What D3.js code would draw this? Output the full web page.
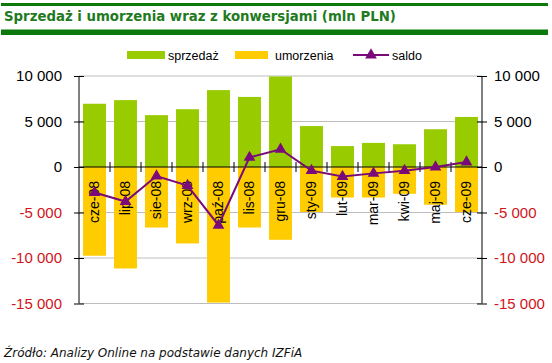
<!DOCTYPE html>
<html>
<head>
<meta charset="utf-8">
<script src="https://cdn.jsdelivr.net/npm/d3@7"></script>
<style>
  body { margin: 0; background: #fff; }
  svg { display: block; }
</style>
</head>
<body>
<script>
//chart data
var months = ["cze-08", "lip-08", "sie-08", "wrz-08", "paź-08", "lis-08", "gru-08",
              "sty-09", "lut-09", "mar-09", "kwi-09", "maj-09", "cze-09"];
var sprzedaz = [6950, 7350, 5700, 6350, 8450, 7700, 9950, 4500, 2300, 2650, 2500, 4150, 5500];
var umorzenia = [-9750, -11150, -6650, -8400, -14900, -6650, -8000, -4950, -3350, -3350, -2950, -4150, -4950];
var saldo = [-2800, -3800, -1000, -2050, -6400, 1050, 1950, -400, -1050, -700, -400, 0, 550];
var yTicks = [-15000, -10000, -5000, 0, 5000, 10000];
var seriesNames = ["sprzedaż", "umorzenia", "saldo"];

(function(){

var width = 552, height = 363;
var plotLeft = 79, plotRight = 482, plotTop = 76, plotBottom = 303.5;

var svg = d3.select("body").append("svg")
    .attr("width", width)
    .attr("height", height);

//title with green bars
svg.append("rect").attr("x", 1).attr("y", 3).attr("width", 547).attr("height", 3).attr("fill", "#0b7a0b");
svg.append("rect").attr("x", 1).attr("y", 29.5).attr("width", 547).attr("height", 5.5).attr("fill", "#0b7a0b");
svg.append("text")
    .attr("x", 4).attr("y", 21)
    .attr("font-family", "DejaVu Sans")
    .attr("font-weight", "bold")
    .attr("font-size", 13.3)
    .attr("fill", "#1f7a22")
    .text("Sprzedaż i umorzenia wraz z konwersjami (mln PLN)");

//scales
var x = d3.scaleBand()
    .domain(months)
    .range([plotLeft, plotRight])
    .paddingInner(0.26)
    .paddingOuter(0.13);

var y = d3.scaleLinear()
    .domain([-15000, 10000])
    .range([plotBottom, plotTop]);

var fmt = function(v){
    return d3.format(",")(v).replace(/,/g, " ").replace("−", "-");
};

//gridlines
svg.append("g").selectAll("line")
    .data(yTicks.filter(function(d){ return d != 0; }))
    .enter().append("line")
    .attr("x1", plotLeft).attr("x2", plotRight)
    .attr("y1", function(d){ return y(d); })
    .attr("y2", function(d){ return y(d); })
    .attr("stroke", "#bdbdbd")
    .attr("stroke-width", 1);

//bars
svg.append("g").selectAll("rect")
    .data(sprzedaz)
    .enter().append("rect")
    .attr("x", function(d, i){ return x(months[i]); })
    .attr("width", x.bandwidth())
    .attr("y", function(d){ return y(d); })
    .attr("height", function(d){ return y(0) - y(d); })
    .attr("fill", "#99cc00");

svg.append("g").selectAll("rect")
    .data(umorzenia)
    .enter().append("rect")
    .attr("x", function(d, i){ return x(months[i]); })
    .attr("width", x.bandwidth())
    .attr("y", y(0))
    .attr("height", function(d){ return y(d) - y(0); })
    .attr("fill", "#ffcc00");

//axes
var leftAxis = d3.axisLeft(y).tickValues(yTicks).tickSize(0).tickPadding(17).tickFormat(fmt);
var rightAxis = d3.axisRight(y).tickValues(yTicks).tickSize(0).tickPadding(12).tickFormat(fmt);

function styleAxis(g){
    g.select(".domain").remove();
    g.selectAll("text")
        .attr("font-family", "Liberation Sans")
        .attr("font-size", 15)
        .attr("fill", function(d){ return d < 0 ? "#d0141a" : "#000"; });
    g.selectAll(".tick").append("line")
        .attr("x1", -5).attr("x2", 5)
        .attr("stroke", "#000");
}

var gl = svg.append("g").attr("transform", "translate(" + plotLeft + ",0)").call(leftAxis);
styleAxis(gl);
gl.append("line").attr("y1", plotTop).attr("y2", plotBottom).attr("stroke", "#000");

var gr = svg.append("g").attr("transform", "translate(" + plotRight + ",0)").call(rightAxis);
styleAxis(gr);
gr.append("line").attr("y1", plotTop).attr("y2", plotBottom).attr("stroke", "#000");

//category axis on zero line
var gx = svg.append("g").attr("transform", "translate(0," + y(0) + ")");
gx.append("line").attr("x1", plotLeft).attr("x2", plotRight).attr("stroke", "#000");
gx.selectAll(".cat-tick")
    .data(months.slice(1))
    .enter().append("line")
    .attr("x1", function(d){ return x(d) - x.step() * x.paddingInner() / 2; })
    .attr("x2", function(d){ return x(d) - x.step() * x.paddingInner() / 2; })
    .attr("y1", -5).attr("y2", 5)
    .attr("stroke", "#000");
gx.selectAll(".cat-label")
    .data(months)
    .enter().append("text")
    .attr("transform", function(d){
        return "translate(" + (x(d) + x.bandwidth() / 2) + ",14) rotate(-90)";
    })
    .attr("dy", "0.35em")
    .attr("text-anchor", "end")
    .attr("font-family", "Liberation Sans")
    .attr("font-size", 14)
    .attr("fill", "#000")
    .text(function(d){ return d; });

//saldo line
var line = d3.line()
    .x(function(d, i){ return x(months[i]) + x.bandwidth() / 2; })
    .y(function(d){ return y(d); });

svg.append("path")
    .datum(saldo)
    .attr("d", line)
    .attr("fill", "none")
    .attr("stroke", "#7a0a7a")
    .attr("stroke-width", 2);

var tri = d3.symbol().type(d3.symbolTriangle).size(60);
svg.append("g").selectAll("path")
    .data(saldo)
    .enter().append("path")
    .attr("d", tri)
    .attr("transform", function(d, i){
        return "translate(" + (x(months[i]) + x.bandwidth() / 2) + "," + y(d) + ")";
    })
    .attr("fill", "#7a0a7a");

//legend
var legend = svg.append("g").attr("font-family", "Liberation Sans").attr("font-size", 12.5);
legend.append("rect").attr("x", 127).attr("y", 51).attr("width", 38).attr("height", 8).attr("fill", "#99cc00");
legend.append("text").attr("x", 168).attr("y", 59.5).text(seriesNames[0]);
legend.append("rect").attr("x", 235).attr("y", 51).attr("width", 33).attr("height", 8).attr("fill", "#ffcc00");
legend.append("text").attr("x", 275).attr("y", 59.5).text(seriesNames[1]);
legend.append("line").attr("x1", 353).attr("x2", 389).attr("y1", 55).attr("y2", 55)
    .attr("stroke", "#7a0a7a").attr("stroke-width", 2);
legend.append("path").attr("d", tri).attr("transform", "translate(371,55)").attr("fill", "#7a0a7a");
legend.append("text").attr("x", 392).attr("y", 59.5).text(seriesNames[2]);

//source
svg.append("text")
    .attr("x", 4).attr("y", 356.5)
    .attr("font-family", "DejaVu Sans")
    .attr("font-style", "italic")
    .attr("font-size", 12)
    .attr("fill", "#111")
    .text("Źródło: Analizy Online na podstawie danych IZFiA");

})();
</script>
</body>
</html>
